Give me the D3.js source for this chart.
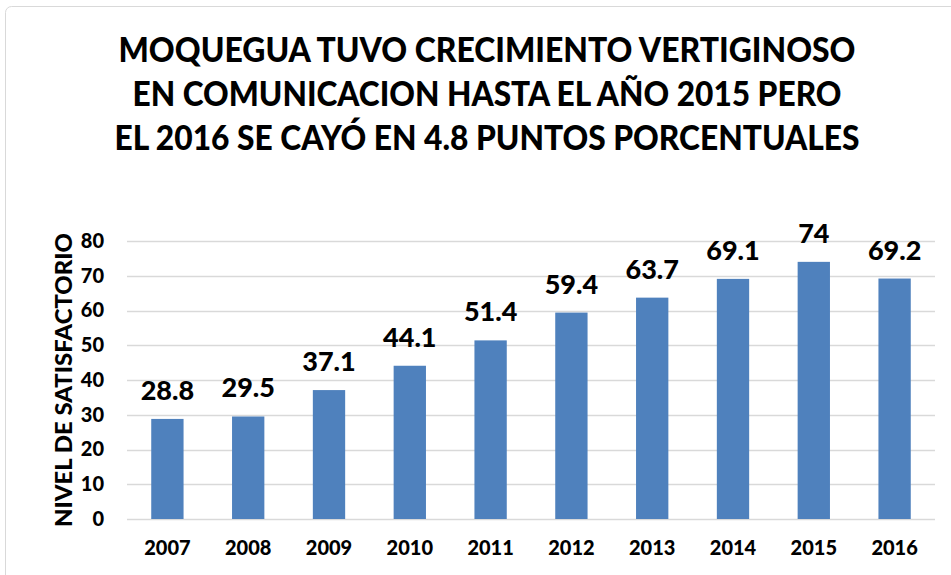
<!DOCTYPE html>
<html>
<head>
<meta charset="utf-8">
<script src="https://cdn.jsdelivr.net/npm/d3@7"></script>
<style>
  body { margin: 0; background: #fff; }
  text { font-family: Lato, "Liberation Sans", sans-serif; font-weight: 900; fill: #000; }
</style>
</head>
<body>
<svg id="chart"></svg>
<script>
// Data
const years = ['2007', '2008', '2009', '2010', '2011', '2012', '2013', '2014', '2015', '2016'];
const values = [28.8, 29.5, 37.1, 44.1, 51.4, 59.4, 63.7, 69.1, 74, 69.2];
const valueLabels = ['28.8', '29.5', '37.1', '44.1', '51.4', '59.4', '63.7', '69.1', '74', '69.2'];
const yTicks = [0, 10, 20, 30, 40, 50, 60, 70, 80];
const titleLines = [
  'MOQUEGUA TUVO CRECIMIENTO VERTIGINOSO',
  'EN COMUNICACION HASTA EL AÑO 2015 PERO',
  'EL 2016 SE CAYÓ EN 4.8 PUNTOS PORCENTUALES'
];
const yTitle = 'NIVEL DE SATISFACTORIO';

const width = 951, height = 575;
const margin = {top: 241, right: 16, bottom: 56, left: 127};
const innerW = width - margin.left - margin.right;
const innerH = height - margin.top - margin.bottom;

const svg = d3.select('#chart')
    .attr('width', width)
    .attr('height', height);

// Chart area border
svg.append('rect')
    .attr('x', 5.5).attr('y', 6.5)
    .attr('width', 960).attr('height', 600)
    .attr('rx', 6)
    .attr('fill', 'none')
    .attr('stroke', '#d9d9d9');

// Title
const titleWidths = [737, 709, 745];
svg.append('g')
    .selectAll('text')
    .data(titleLines)
    .join('text')
    .attr('x', 487)
    .attr('y', (d, i) => 62 + i * 44)
    .attr('text-anchor', 'middle')
    .attr('font-size', 34)
    .attr('textLength', (d, i) => titleWidths[i])
    .attr('lengthAdjust', 'spacingAndGlyphs')
    .text(d => d);

const chart = svg.append('g')
    .attr('transform', `translate(${margin.left},${margin.top})`);

const xScale = d3.scaleBand()
    .domain(years)
    .range([0, innerW])
    .paddingInner(0.6)
    .paddingOuter(0.3);

const yScale = d3.scaleLinear()
    .domain([0, 80])
    .range([innerH, 0]);

// Gridlines
chart.append('g')
    .selectAll('line')
    .data(yTicks)
    .join('line')
    .attr('x1', 0).attr('x2', innerW)
    .attr('y1', d => Math.round(yScale(d)) + 0.5)
    .attr('y2', d => Math.round(yScale(d)) + 0.5)
    .attr('stroke', '#d9d9d9')
    .attr('stroke-width', 1.5);

// Bars
chart.selectAll('.bar')
    .data(values)
    .join('rect')
    .attr('class', 'bar')
    .attr('x', (d, i) => xScale(years[i]))
    .attr('y', d => yScale(d))
    .attr('width', xScale.bandwidth())
    .attr('height', d => innerH - yScale(d))
    .attr('fill', '#4f81bd');

// Value labels
chart.selectAll('.label')
    .data(values)
    .join('text')
    .attr('class', 'label')
    .attr('x', (d, i) => xScale(years[i]) + xScale.bandwidth() / 2)
    .attr('y', d => yScale(d) - 19)
    .attr('text-anchor', 'middle')
    .attr('font-size', 27)
    .text((d, i) => valueLabels[i]);

// Axes
const yAxis = d3.axisLeft(yScale).tickValues(yTicks).tickSize(0).tickPadding(23);
const yAxisG = chart.append('g').call(yAxis);
yAxisG.select('.domain').remove();
yAxisG.selectAll('text').attr('font-size', 20).attr('font-family', null);

const xAxis = d3.axisBottom(xScale).tickSize(0).tickPadding(22);
const xAxisG = chart.append('g')
    .attr('transform', `translate(0,${innerH})`)
    .call(xAxis);
xAxisG.select('.domain').remove();
xAxisG.selectAll('text').attr('font-size', 20).attr('font-family', null);

// Y axis title
svg.append('text')
    .attr('transform', 'translate(72,380) rotate(-90)')
    .attr('text-anchor', 'middle')
    .attr('font-size', 22)
    .attr('textLength', 294)
    .attr('lengthAdjust', 'spacingAndGlyphs')
    .text(yTitle);
</script>
</body>
</html>
